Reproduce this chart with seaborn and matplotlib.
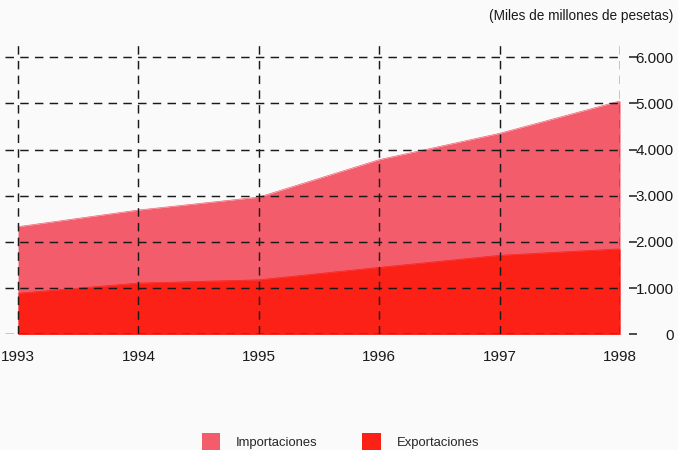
import matplotlib
matplotlib.use("Agg")
import matplotlib.pyplot as plt
from matplotlib.patches import Patch
import seaborn as sns
import pandas as pd

years = [1993, 1994, 1995, 1996, 1997, 1998]
importaciones = [2330, 2690, 2970, 3780, 4350, 5050]
exportaciones = [890, 1110, 1180, 1450, 1710, 1850]
ytick_values = [0, 1000, 2000, 3000, 4000, 5000, 6000]
ytick_labels = ["0", "1.000", "2.000", "3.000", "4.000", "5.000", "6.000"]
unit_label = "(Miles de millones de pesetas)"
series_names = ["Importaciones", "Exportaciones"]

c_imp = "#F35C6B"
c_exp = "#FB2117"
bg = "#FBFAFB"

sns.set_theme(style="white")
plt.rcParams["font.family"] = ["Liberation Sans", "DejaVu Sans"]

df = pd.DataFrame({"year": years, "Importaciones": importaciones,
                   "Exportaciones": exportaciones})

fig = plt.figure(figsize=(6.78, 4.5), dpi=100, facecolor=bg)
ax = fig.add_axes([0.0074, 0.257, 0.9071, 0.6497])
ax.set_facecolor(bg)

ax.fill_between(df["year"], 0, df["Importaciones"], color=c_imp, lw=0, zorder=1)
ax.fill_between(df["year"], 0, df["Exportaciones"], color=c_exp, lw=0, zorder=2)
sns.lineplot(data=df, x="year", y="Importaciones", ax=ax, color=c_imp, lw=0.5, zorder=1)
sns.lineplot(data=df, x="year", y="Exportaciones", ax=ax, color=c_exp, lw=0.5, zorder=2)

ax.set_xlim(1992.892, 1998.0)
ax.set_ylim(0, 6327)

dash = (0, (5.8, 4.3))
for yv in ytick_values:
    ax.axhline(yv, color="#1a1a1a", lw=1.05, ls=dash, zorder=3)
for xv in years:
    ax.axvline(xv, color="#1a1a1a", lw=1.05, ls=dash, zorder=3)

for s in ax.spines.values():
    s.set_visible(False)

ax.set_xticks(years)
ax.set_xticklabels([str(y) for y in years], fontsize=9.0)
ax.yaxis.tick_right()
ax.set_yticks(ytick_values)
ax.set_yticklabels(ytick_labels, fontsize=8.8)
ax.spines["right"].set_position(("outward", 6.5))
ax.spines["bottom"].set_position(("outward", 3))
ax.tick_params(axis="x", direction="out", length=6.5, width=1.1, color="#1a1a1a",
               pad=2, labelcolor="#1a1a1a")
ax.tick_params(axis="y", which="major", direction="out", length=5.5, width=1.1,
               color="#1a1a1a", pad=26.5, labelcolor="#1a1a1a",
               left=False, right=True, labelleft=False, labelright=True)
for t in ax.yaxis.get_major_ticks():
    t.label2.set_horizontalalignment("right")
ax.set_xlabel("")
ax.set_ylabel("")

fig.text(0.993, 0.965, unit_label, ha="right", va="center", fontsize=9.8,
         color="#1a1a1a")

handles = [Patch(facecolor=c_imp, edgecolor="none"),
           Patch(facecolor=c_exp, edgecolor="none")]
fig.legend(handles, series_names, loc="center left",
           bbox_to_anchor=(0.290, 0.018), ncol=2, frameon=False,
           fontsize=9.4, handlelength=1.4, handleheight=1.8,
           handletextpad=1.2, columnspacing=3.45, borderaxespad=0)

fig.savefig("out.png", dpi=100, facecolor=bg)
